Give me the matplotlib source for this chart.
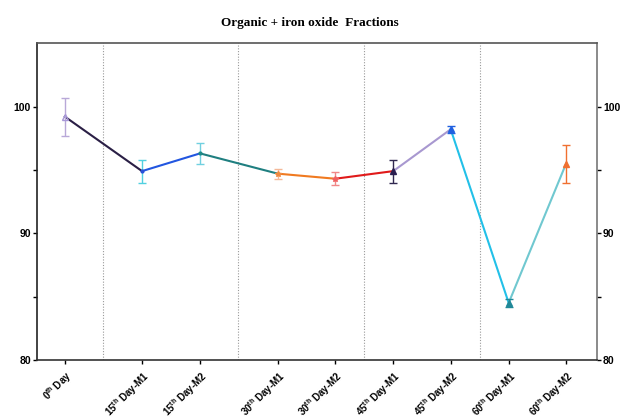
import matplotlib.pyplot as plt
import numpy as np

plt.rcParams["font.family"] = ["Liberation Sans", "DejaVu Sans"]
plt.rcParams["font.weight"] = "bold"
plt.rcParams["mathtext.default"] = "regular"

labels = [r"0$^{th}$ Day", r"15$^{th}$ Day-M1", r"15$^{th}$ Day-M2",
          r"30$^{th}$ Day-M1", r"30$^{th}$ Day-M2", r"45$^{th}$ Day-M1",
          r"45$^{th}$ Day-M2", r"60$^{th}$ Day-M1", r"60$^{th}$ Day-M2"]
values = [99.2, 94.9, 96.3, 94.7, 94.3, 94.9, 98.2, 84.5, 95.5]
errors = [1.5, 0.9, 0.8, 0.4, 0.5, 0.9, 0.3, 0.3, 1.5]

# x positions (gaps between groups), divider lines
xpos = [0, 1.33, 2.33, 3.67, 4.66, 5.66, 6.65, 7.65, 8.64]
dividers = [0.65, 2.98, 5.15, 7.15]

seg_colors = ["#2a1f45", "#2256e0", "#1f7f80", "#f07a20",
              "#e01a1a", "#a898d0", "#22c0e8", "#70c8d0"]
pt_colors = ["#a898d8", "#2a50d8", "#1f8a88", "#f08a40", "#f06060",
             "#2a1f50", "#2060e0", "#208898", "#f07030"]
err_colors = ["#b8a8d8", "#50d0e0", "#70d0e0", "#f4b898", "#f08888",
              "#302850", "#2060e0", "#208898", "#f07030"]
markers = ["^", ".", ".", "*", "*", "^", "^", "^", "^"]

fig = plt.figure(figsize=(6.2, 4.19), dpi=100)
ax = fig.add_axes([0.0597, 0.141, 0.903, 0.756])

for d in dividers:
    ax.axvline(d, color="#999999", linestyle=(0, (1, 1.5)), linewidth=0.8, zorder=1)

for i in range(len(values) - 1):
    ax.plot(xpos[i:i + 2], values[i:i + 2], color=seg_colors[i], linewidth=1.5, zorder=2)

for i in range(len(values)):
    ax.errorbar(xpos[i], values[i], yerr=errors[i], fmt="none", ecolor=err_colors[i],
                elinewidth=1, capsize=3, capthick=1, zorder=3)
    ms = 5 if markers[i] == "^" else 4
    mfc = "none" if i == 0 else pt_colors[i]
    ax.plot(xpos[i], values[i], marker=markers[i], color=pt_colors[i], markersize=ms,
            markerfacecolor=mfc, zorder=4)

ax.set_xlim(-0.48, 9.17)
ax.set_ylim(80, 105)
ax.set_yticks([80, 90, 100])
ax.set_yticks([85, 95], minor=True)
ax.set_xticks(xpos)
ax.set_xticklabels(labels, rotation=45, ha="right", rotation_mode="anchor", fontsize=7)
ax.tick_params(axis="both", which="both", direction="out", length=3, width=1)
ax.tick_params(axis="y", which="both", right=True, labelright=True, labelsize=7.5, pad=1.5)
ax.tick_params(axis="x", pad=3)

ax.spines["left"].set_color("#222222")
ax.spines["bottom"].set_color("#333333")
ax.spines["top"].set_color("#555555")
ax.spines["right"].set_color("#777777")
for s in ax.spines.values():
    s.set_linewidth(1.2)

fig.text(0.5, 0.945, "Organic + iron oxide  Fractions", ha="center", va="center",
         fontsize=9.5, fontweight="bold", family="Liberation Serif")

fig.savefig("out.png", dpi=100)
